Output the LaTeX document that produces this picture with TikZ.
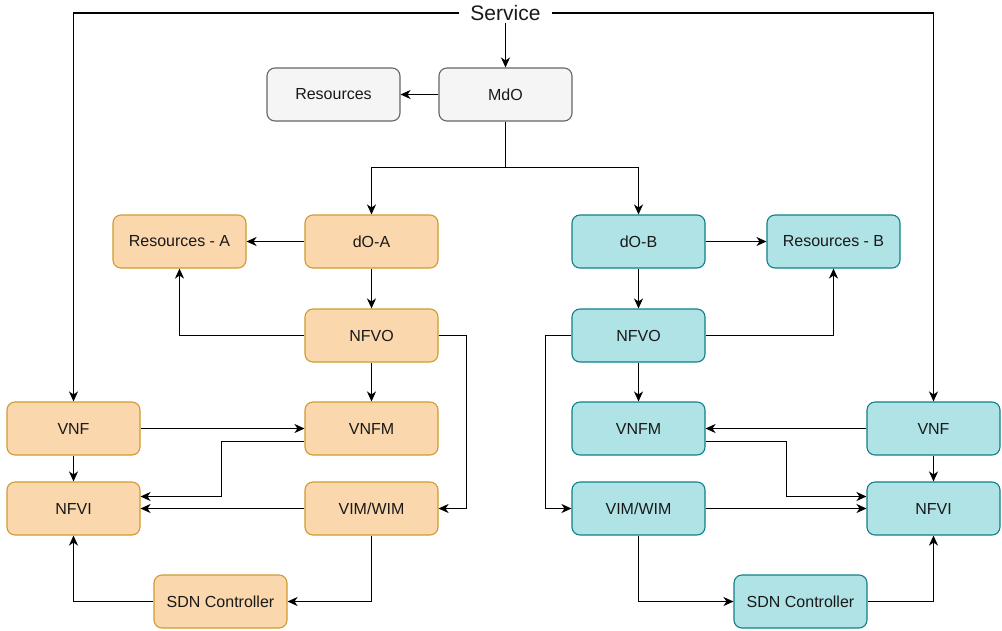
\documentclass[tikz,border=0pt]{standalone}
\usepackage{fontspec}
\setmainfont{Liberation Sans}
\usetikzlibrary{arrows.meta}
\definecolor{ofill}{HTML}{FAD7AC}
\definecolor{oline}{HTML}{D39A2E}
\definecolor{tfill}{HTML}{B0E3E6}
\definecolor{tline}{HTML}{0E8088}
\definecolor{gfill}{HTML}{F5F5F5}
\definecolor{gline}{HTML}{666666}
\tikzset{
  box/.style={draw, rounded corners=8pt, minimum width=133pt, minimum height=53pt,
    line width=1.1pt, inner sep=0pt, font=\fontsize{16}{19}\selectfont, text=black!90},
  obox/.style={box, fill=ofill, draw=oline},
  tbox/.style={box, fill=tfill, draw=tline},
  gbox/.style={box, fill=gfill, draw=gline},
  arr/.style={line width=1.3pt, -{Stealth[length=10pt,width=9pt,inset=3pt]}},
  ln/.style={line width=1.3pt},
}
\begin{document}
\begin{tikzpicture}[x=1pt,y=-1pt]
\useasboundingbox (0,0) rectangle (1002,630);
% nodes
\node[inner xsep=11pt, inner ysep=2pt, font=\fontsize{21}{25}\selectfont, text=black!90] (Service) at (505.5,13) {Service};
\node[gbox] (Res) at (333.5,94.5) {Resources};
\node[gbox] (MdO) at (505.5,94.5) {MdO};
\coordinate (split) at (505.5,167.5);
% A side
\node[obox] (ResA) at (179.5,241.5) {Resources - A};
\node[obox] (dOA) at (371.5,241.5) {dO-A};
\node[obox] (NFVOA) at (371.5,335.5) {NFVO};
\node[obox] (VNFA) at (73.5,428.5) {VNF};
\node[obox] (VNFMA) at (371.5,428.5) {VNFM};
\node[obox] (NFVIA) at (73.5,508.5) {NFVI};
\node[obox] (VIMA) at (371.5,508.5) {VIM/WIM};
\node[obox] (SDNA) at (220.5,601.5) {SDN Controller};
% B side
\node[tbox] (dOB) at (638.5,241.5) {dO-B};
\node[tbox] (ResB) at (833.5,241.5) {Resources - B};
\node[tbox] (NFVOB) at (638.5,335.5) {NFVO};
\node[tbox] (VNFMB) at (638.5,428.5) {VNFM};
\node[tbox] (VNFB) at (933.5,428.5) {VNF};
\node[tbox] (VIMB) at (638.5,508.5) {VIM/WIM};
\node[tbox] (NFVIB) at (933.5,508.5) {NFVI};
\node[tbox] (SDNB) at (800.5,601.5) {SDN Controller};
% top connectors
\draw[arr] (Service.south) -- (MdO.north);
\draw[arr] (MdO.west) -- (Res.east);
\draw[ln] (MdO.south) -- (split);
\draw[arr] (split) -| (dOA.north);
\draw[arr] (split) -| (dOB.north);
\draw[arr] (Service.west) -| (VNFA.north);
\draw[arr] (Service.east) -| (VNFB.north);
% A side connectors
\draw[arr] (dOA.west) -- (ResA.east);
\draw[arr] (dOA.south) -- (NFVOA.north);
\draw[arr] (NFVOA.west) -| (ResA.south);
\draw[arr] (NFVOA.east) -- ++(28,0) |- (VIMA.east);
\draw[arr] (NFVOA.south) -- (VNFMA.north);
\draw[arr] (VNFA.east) -- (VNFMA.west);
\draw[arr] (VNFA.south) -- (NFVIA.north);
\draw[arr] ([yshift=-13pt]VNFMA.west) -- ++(-83,0) |- ([yshift=12pt]NFVIA.east);
\draw[arr] (VIMA.west) -- (NFVIA.east);
\draw[arr] (VIMA.south) |- (SDNA.east);
\draw[arr] (SDNA.west) -| (NFVIA.south);
% B side connectors
\draw[arr] (dOB.east) -- (ResB.west);
\draw[arr] (dOB.south) -- (NFVOB.north);
\draw[arr] (NFVOB.east) -| (ResB.south);
\draw[arr] (NFVOB.west) -- ++(-26,0) |- (VIMB.west);
\draw[arr] (NFVOB.south) -- (VNFMB.north);
\draw[arr] (VNFB.west) -- (VNFMB.east);
\draw[arr] (VNFB.south) -- (NFVIB.north);
\draw[arr] ([yshift=-13pt]VNFMB.east) -- ++(81,0) |- ([yshift=12pt]NFVIB.west);
\draw[arr] (VIMB.east) -- (NFVIB.west);
\draw[arr] (VIMB.south) |- (SDNB.west);
\draw[arr] (SDNB.east) -| (NFVIB.south);
\end{tikzpicture}
\end{document}
